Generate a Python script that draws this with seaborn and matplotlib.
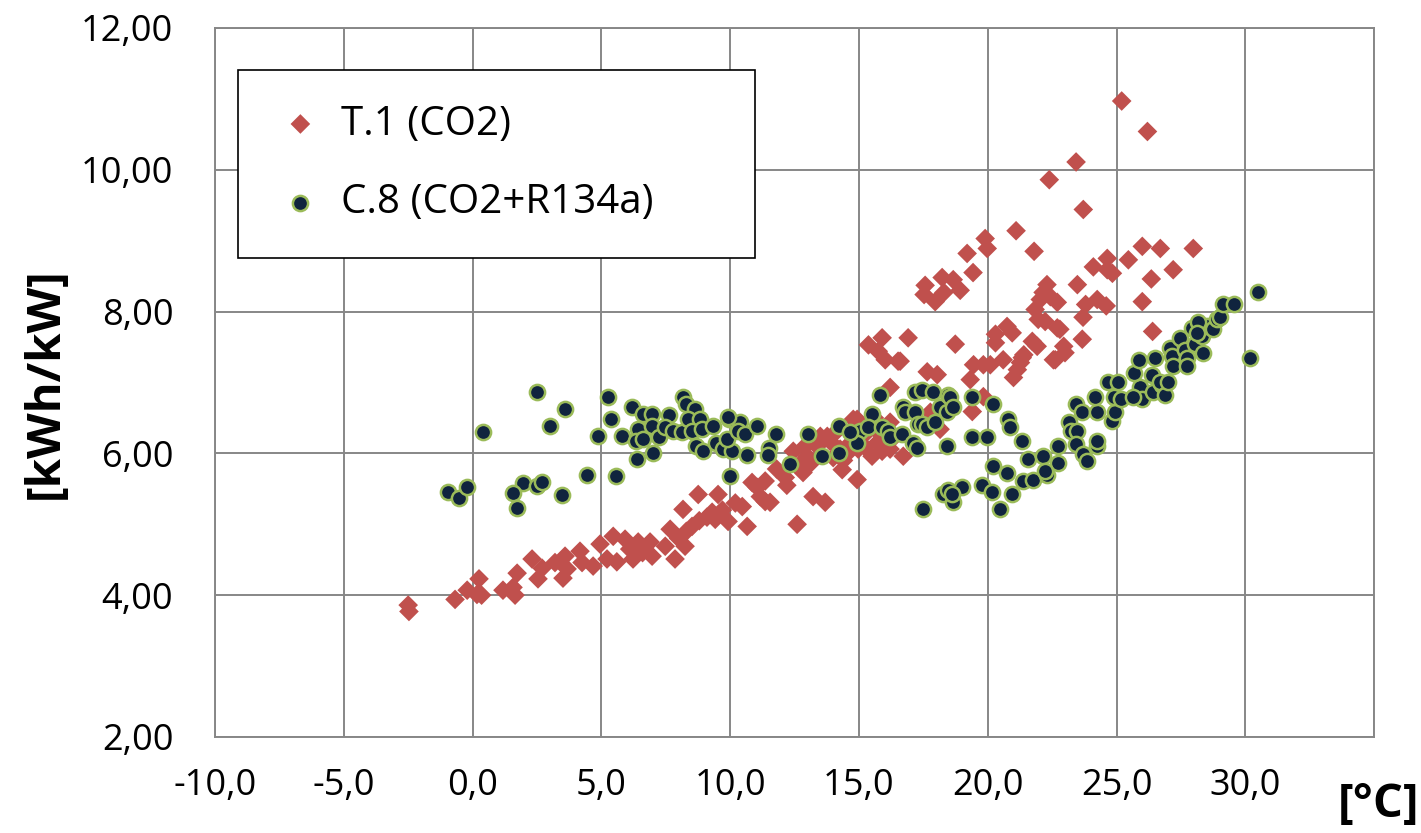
import pandas as pd
import matplotlib
matplotlib.use("Agg")
import matplotlib.pyplot as plt
import seaborn as sns

# T.1 (CO2) - red diamonds
t1_x = [-2.50, -2.47, -0.68, -0.21, 0.25, 0.17, 0.35, 1.18, 1.57, 1.65, 1.73, 2.31, 2.70, 2.54,
        3.20, 3.59, 3.67, 3.51, 4.17, 4.25, 4.68, 4.95, 5.22, 5.46, 5.60, 5.92, 6.23, 6.43, 6.10,
        6.60, 6.89, 6.97, 7.48, 7.67, 7.86, 8.17, 8.00, 8.25, 8.52, 8.76, 8.30, 8.80, 9.10, 9.30,
        9.42, 9.53, 9.92, 10.47, 10.66, 10.85, 11.05, 11.17, 11.36, 11.36, 11.55, 12.14, 12.45,
        12.60, 12.72, 12.83, 12.99, 13.22, 13.38, 13.50, 13.69, 13.77, 13.88, 14.00, 14.27, 14.35,
        14.54, 14.58, 14.93, 14.93, 14.97, 15.32, 15.75, 15.90, 16.21, 16.21, 16.29, 16.52, 16.72,
        16.02, 15.37, 15.90, 15.75, 16.91, 18.74, 17.65, 18.04, 19.32, 19.45, 19.83, 20.10, 20.60,
        21.00, 21.34, 21.73, 20.30, 20.75, 21.92, 21.96, 22.62, 22.80, 22.95, 23.00, 23.70, 23.67,
        19.40, 19.83, 18.15, 17.77, 15.51, 15.71, 16.21, 14.78,
        25.20, 26.20, 23.43, 22.39, 23.71, 21.10, 19.90, 19.98, 19.20, 21.80, 19.43, 18.23, 18.66,
        17.57, 17.53, 18.30, 17.96, 18.93, 26.00, 26.70, 27.98, 25.46, 24.64, 24.10, 24.64, 24.84,
        27.20, 26.35, 23.48, 22.30, 22.15, 22.04, 22.43, 22.70, 21.84, 24.25, 24.60, 23.80, 26.00,
        22.23, 20.95, 20.30, 22.70, 26.40, 22.55, 21.40, 21.27, 21.15, 16.60,
        12.20, 12.90, 13.10, 14.10, 14.40, 15.20, 15.60, 11.80, 10.20, 9.70]
t1_y = [3.86, 3.77, 3.94, 4.07, 4.23, 4.01, 4.00, 4.07, 4.11, 4.00, 4.31, 4.51, 4.38, 4.23,
        4.46, 4.55, 4.37, 4.24, 4.62, 4.46, 4.41, 4.72, 4.51, 4.83, 4.47, 4.79, 4.51, 4.75, 4.65,
        4.60, 4.75, 4.55, 4.69, 4.93, 4.51, 5.21, 4.80, 4.69, 4.97, 5.42, 4.90, 5.05, 5.10, 5.17,
        5.07, 5.42, 5.04, 5.25, 4.97, 5.59, 5.52, 5.39, 5.61, 5.32, 5.31, 5.66, 6.03,
        5.00, 5.85, 5.73, 5.96, 5.39, 6.10, 6.24, 5.31, 6.24, 6.17, 5.94, 6.06, 5.77,
        6.10, 6.01, 6.48, 5.63, 6.06, 6.30, 6.30, 6.03, 6.93, 6.44, 6.20, 7.30, 5.96,
        7.32, 7.53, 7.63, 7.44, 7.63, 7.54, 7.15, 7.11, 7.04, 7.25, 7.25, 7.25, 7.32,
        7.07, 7.35, 7.58, 7.68, 7.79, 7.51, 7.89, 7.32, 7.75, 7.51, 7.42, 7.92, 7.61,
        6.59, 6.80, 6.34, 6.58, 5.96, 6.15, 6.06, 6.48,
        10.97, 10.54, 10.11, 9.86, 9.44, 9.14, 9.03, 8.89, 8.82, 8.85, 8.55, 8.48, 8.45,
        8.37, 8.24, 8.27, 8.14, 8.30, 8.92, 8.89, 8.89, 8.73, 8.75, 8.63, 8.59, 8.54,
        8.59, 8.46, 8.38, 8.38, 8.27, 8.17, 8.21, 8.13, 8.03, 8.17, 8.08, 8.10, 8.14,
        7.86, 7.70, 7.56, 7.77, 7.72, 7.32, 7.39, 7.28, 7.18, 7.30,
        5.55, 6.10, 5.85, 6.30, 5.90, 6.10, 6.50, 5.78, 5.30, 5.20]

# C.8 (CO2+R134a) - navy circles
c8_x = [2.51, 3.59, 3.00, 0.41, 5.26, 5.38, 4.88, 5.81, 6.20, 6.39, 7.01, -0.95, -0.52, -0.21,
        1.96, 1.57, 1.73, 2.51, 2.70, 3.48, 4.45, 5.57,
        6.63, 6.97, 7.63, 6.43, 6.97, 6.35, 6.63, 7.24, 7.48, 7.79, 8.14, 8.17, 8.29, 8.64, 8.37,
        8.83, 8.52, 8.91, 8.68, 8.95, 9.34, 9.46, 9.73, 10.08, 9.88, 9.96, 10.39, 10.31, 10.58,
        11.05, 10.66, 11.51, 11.48, 11.79, 10.00, 12.33, 13.03,
        13.57, 14.23, 14.23, 14.85, 15.05, 14.93, 15.51, 15.36, 15.83, 15.90, 16.14, 16.21, 16.68,
        16.72, 16.80, 17.18, 17.10, 17.26, 17.18, 17.45, 17.30, 17.45, 17.65, 17.88, 17.96, 18.15,
        18.43, 18.47, 18.54, 18.66, 18.43, 19.40, 19.40, 19.98, 20.21, 20.80, 20.87, 17.49, 18.27,
        18.47, 18.66, 19.01, 18.62, 20.21, 20.75, 19.79, 20.17, 20.49, 20.95,
        21.34, 21.38, 21.57, 22.15, 21.77, 22.30, 22.74, 22.74, 23.17, 23.24, 23.48, 23.44, 23.71,
        23.87, 24.25, 24.25, 23.44, 23.67, 24.25, 24.17, 24.84, 24.95, 24.91, 25.17, 24.68, 25.07,
        25.92, 26.00, 25.65, 26.43, 26.78, 22.23,
        25.67, 25.86, 26.39, 26.50, 26.70, 26.89, 27.00, 27.09, 27.16, 27.20, 27.47, 27.67, 27.75,
        27.75, 27.94, 28.06, 28.33, 28.37, 28.53, 28.76, 28.92, 29.03, 29.15, 29.57, 30.50, 30.20,
        28.18, 28.14, 9.92, 14.66]
c8_y = [6.87, 6.62, 6.38, 6.30, 6.79, 6.49, 6.24, 6.24, 6.65, 5.92, 6.01, 5.46, 5.37, 5.52,
        5.58, 5.44, 5.23, 5.54, 5.59, 5.41, 5.70, 5.68,
        6.55, 6.56, 6.54, 6.34, 6.38, 6.17, 6.20, 6.23, 6.37, 6.31, 6.30, 6.80, 6.70, 6.63, 6.48,
        6.49, 6.31, 6.34, 6.10, 6.03, 6.38, 6.14, 6.06, 6.04, 6.20, 6.49, 6.44, 6.32, 6.28,
        6.39, 5.97, 6.07, 5.97, 6.28, 5.68, 5.85, 6.27,
        5.96, 6.38, 6.01, 6.27, 6.31, 6.15, 6.55, 6.37, 6.83, 6.37, 6.31, 6.23, 6.27,
        6.65, 6.58, 6.59, 6.15, 6.08, 6.87, 6.90, 6.41, 6.41, 6.37, 6.86, 6.44, 6.66,
        6.58, 6.83, 6.80, 6.65, 6.10, 6.79, 6.23, 6.23, 6.69, 6.48, 6.37, 5.21, 5.42,
        5.49, 5.31, 5.52, 5.42, 5.82, 5.73, 5.56, 5.46, 5.21, 5.42,
        6.17, 5.61, 5.92, 5.96, 5.63, 5.70, 5.87, 6.11, 6.44, 6.31, 6.31, 6.13, 5.99,
        5.89, 6.10, 6.17, 6.69, 6.59, 6.58, 6.80, 6.45, 6.59, 6.79, 6.76, 7.00, 7.01,
        6.94, 6.76, 6.79, 6.86, 6.97, 5.75,
        7.14, 7.32, 7.11, 7.35, 7.00, 6.83, 7.01, 7.49, 7.37, 7.23, 7.63, 7.46, 7.35,
        7.23, 7.77, 7.54, 7.65, 7.42, 7.79, 7.75, 7.89, 7.93, 8.10, 8.10, 8.28, 7.35,
        7.85, 7.70, 6.51, 6.30]

x_ticks = [-10, -5, 0, 5, 10, 15, 20, 25, 30, 35]
y_ticks = [2, 4, 6, 8, 10, 12]

df_t1 = pd.DataFrame({'temp': t1_x, 'value': t1_y})
df_c8 = pd.DataFrame({'temp': c8_x, 'value': c8_y})

sns.set_style('white')
plt.rcParams['font.family'] = ['Open Sans', 'DejaVu Sans']
plt.rcParams['text.color'] = 'black'

fig = plt.figure(figsize=(14.21, 8.33), dpi=100)
ax = fig.add_axes([0.1513, 0.1153, 0.8157, 0.8511])

sns.scatterplot(data=df_t1, x='temp', y='value', marker='D', s=100, color='#C0504D',
                edgecolor='none', linewidth=0, label='T.1 (CO2)', ax=ax, zorder=3)
sns.scatterplot(data=df_c8, x='temp', y='value', marker='o', s=120, color='#10243E',
                edgecolor='#9BBB59', linewidth=1.8, label='C.8 (CO2+R134a)', ax=ax, zorder=4)

ax.set_xlim(-10, 35)
ax.set_ylim(2, 12)
ax.set_xticks(x_ticks)
ax.set_yticks(y_ticks)
ax.set_xticklabels([f'{v:.1f}'.replace('.', ',') if v < 35 else '' for v in x_ticks])
ax.set_yticklabels([f'{v:.2f}'.replace('.', ',') for v in y_ticks])
ax.tick_params(axis='both', length=0, labelsize=26, colors='black')
ax.tick_params(axis='y', pad=30)
ax.tick_params(axis='x', pad=22)
ax.grid(True, color='#878787', linewidth=1.4)
ax.set_axisbelow(True)
for sp in ax.spines.values():
    sp.set_color('#878787')
    sp.set_linewidth(1.4)
ax.set_xlabel('')
ax.set_ylabel('')

leg = ax.legend(loc='upper left', bbox_to_anchor=(0.0198, 0.662, 0.446, 0.279), mode='expand',
                borderaxespad=0, fontsize=29, frameon=True, fancybox=False, edgecolor='black',
                borderpad=0.85, labelspacing=0.95, handlelength=1.4, handletextpad=0.3)
leg.get_frame().set_linewidth(1.2)
leg.get_frame().set_alpha(1)
for t in leg.get_texts():
    t.set_color('black')

fig.text(0.032, 0.54, '[kWh/kW]', rotation=90, ha='center', va='center',
         fontsize=34, fontweight='bold', color='black')
fig.text(0.97, 0.034, '[°C]', ha='center', va='center', fontsize=34, fontweight='bold',
         color='black')

fig.savefig('out.png', dpi=100)
